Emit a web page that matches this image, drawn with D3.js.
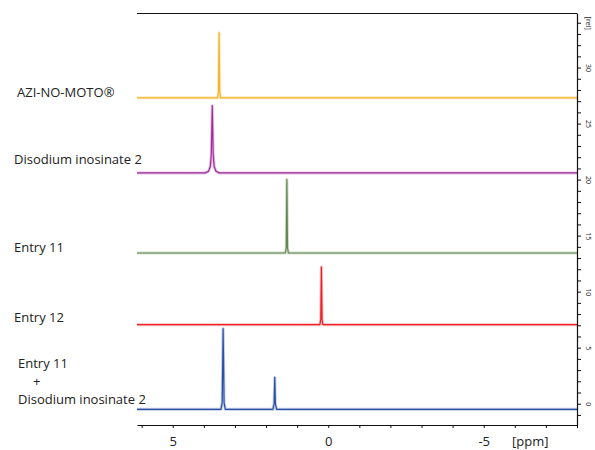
<!DOCTYPE html>
<html>
<head>
<meta charset="utf-8">
<script src="https://cdn.jsdelivr.net/npm/d3@7"></script>
<style>
  html, body { margin: 0; padding: 0; background: #fff; }
  svg { display: block; }
  text { font-family: "Open Sans", "Noto Sans", sans-serif; fill: #222; }
</style>
</head>
<body>
<svg id="chart" width="595" height="450"></svg>
<script>
// Stacked 1H NMR traces: [ppm, relative intensity] outline points per trace
const spectrumNames = ["AZI-NO-MOTO®", "Disodium inosinate 2", "Entry 11", "Entry 12", "Entry 11 + Disodium inosinate 2"];
const spectrumColors = ["#f2b52c", "#a12d9c", "#62884f", "#ee2027", "#2c4fa6"];

const aziNoMoto = [[6.15, 27.3], [3.56, 27.3], [3.53, 27.8], [3.51, 33.1], [3.49, 27.8], [3.46, 27.3], [-8.0, 27.3]];
const disodiumInosinate = [[6.15, 20.6], [3.95, 20.6], [3.85, 20.75], [3.79, 21.2], [3.76, 22.3], [3.73, 26.6], [3.70, 22.3], [3.67, 21.2], [3.61, 20.75], [3.51, 20.6], [-8.0, 20.6]];
const entry11 = [[6.15, 13.45], [1.38, 13.45], [1.35, 13.9], [1.33, 20.0], [1.31, 13.9], [1.28, 13.45], [-8.0, 13.45]];
const entry12 = [[6.15, 7.05], [0.27, 7.05], [0.24, 7.5], [0.22, 12.2], [0.20, 7.5], [0.17, 7.05], [-8.0, 7.05]];
const entry11Mix = [[6.15, -0.5], [3.45, -0.5], [3.41, 0.1], [3.38, 6.7], [3.35, 0.1], [3.31, -0.5], [1.78, -0.5], [1.74, 0.0], [1.72, 2.35], [1.70, 0.0], [1.66, -0.5], [-8.0, -0.5]];
const spectra = [aziNoMoto, disodiumInosinate, entry11, entry12, entry11Mix];

// Axis ticks
const ppmTicks = [6, 5, 4, 3, 2, 1, 0, -1, -2, -3, -4, -5, -6, -7, -8];
const ppmLabels = [5, 0, -5];
const relTicks = d3.range(-1, 35);
const relLabels = [0, 5, 10, 15, 20, 25, 30];

// Trace labels: lines of text per trace
const labelLines = [["AZI-NO-MOTO®"], ["Disodium inosinate 2"], ["Entry 11"], ["Entry 12"], ["Entry 11", "+", "Disodium inosinate 2"]];

const svg = d3.select("#chart");
const plotLeft = 137, plotRight = 577, plotTop = 13, plotBottom = 425;

const x = d3.scaleLinear().domain([6.15, -8.0]).range([plotLeft, plotRight]);
const y = d3.scaleLinear().domain([-1.9, 34.87]).range([plotBottom, plotTop]);

// Frame: top edge
svg.append("line")
  .attr("x1", plotLeft).attr("x2", plotRight)
  .attr("y1", plotTop + 0.5).attr("y2", plotTop + 0.5)
  .attr("stroke", "#111").attr("stroke-width", 1.2);

// Traces: a faint wide band under a thin line
const line = d3.line().x(d => x(d[0])).y(d => y(d[1]));
spectra.forEach((s, i) => {
  const g = svg.append("g");
  g.append("path").datum(s)
    .attr("d", line)
    .attr("fill", "none")
    .attr("stroke", spectrumColors[i])
    .attr("stroke-opacity", 0.3)
    .attr("stroke-width", 3)
    .attr("stroke-linejoin", "round");
  g.append("path").datum(s)
    .attr("d", line)
    .attr("fill", "none")
    .attr("stroke", spectrumColors[i])
    .attr("stroke-width", 1.2)
    .attr("stroke-linejoin", "round");
});

// Bottom ppm axis
const xAxis = d3.axisBottom(x)
  .tickValues(ppmTicks)
  .tickSize(3)
  .tickSizeOuter(0)
  .tickFormat(d => ppmLabels.includes(d) ? String(d) : "");
const gx = svg.append("g").attr("transform", `translate(0,${plotBottom})`).call(xAxis);
gx.select(".domain").attr("stroke", "#111").attr("stroke-width", 1.2);
gx.selectAll(".tick line").attr("stroke", "#111");
gx.selectAll(".tick text")
  .attr("y", 12).attr("dy", "0.71em")
  .style("font-size", "13px")
  .style("font-family", "'Open Sans', sans-serif")
  .attr("fill", "#222");
svg.append("text")
  .attr("x", 512).attr("y", 446)
  .style("font-size", "13px")
  .text("[ppm]");

// Right relative-intensity axis
const yAxis = d3.axisRight(y)
  .tickValues(relTicks)
  .tickSize(4)
  .tickSizeOuter(0)
  .tickFormat(d => relLabels.includes(d) ? String(d) : (d === 34 ? "[rel]" : ""));
const gy = svg.append("g").attr("transform", `translate(${plotRight},0)`).call(yAxis);
gy.select(".domain").attr("stroke", "#111").attr("stroke-width", 1.2);
gy.selectAll(".tick line").attr("stroke", "#111");
gy.selectAll(".tick text")
  .attr("x", 0)
  .attr("text-anchor", "middle")
  .attr("transform", "translate(11,0) rotate(90)")
  .attr("dy", "0.35em")
  .style("font-size", "7px")
  .style("font-family", "'Open Sans', sans-serif")
  .attr("fill", "#333");

// Trace labels
const labelPos = [[17, 97], [14, 164], [14, 252], [14, 322], [18, 368]];
labelLines.forEach((lines, i) => {
  lines.forEach((t, j) => {
    svg.append("text")
      .attr("x", t === "+" ? labelPos[i][0] + 15 : labelPos[i][0])
      .attr("y", labelPos[i][1] + j * 18)
      .style("font-size", "13px")
      .text(t);
  });
});
</script>
</body>
</html>
